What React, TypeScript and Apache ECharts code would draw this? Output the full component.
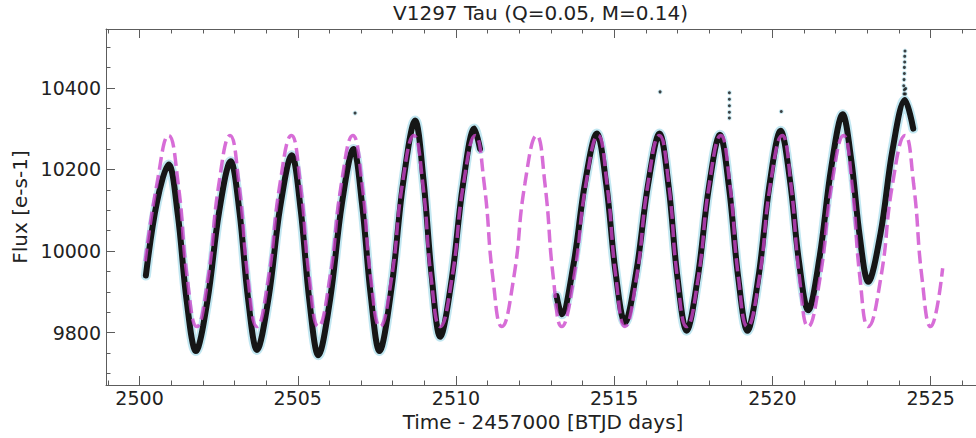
import { useEffect, useRef } from "react";
import * as echarts from "echarts";

// ---- texts ----
const titleText = "V1297 Tau (Q=0.05, M=0.14)";
const xName = "Time - 2457000 [BTJD days]";
const yName = "Flux [e-s-1]";

// ---- ticks ----
const xTicks = [2500, 2505, 2510, 2515, 2520, 2525];
const yTicks = [9800, 10000, 10200, 10400];

// ---- observed light curve (band centre), first orbit ----
const obsTimeA = [2500.20, 2500.55, 2500.92, 2501.21, 2501.49, 2501.78, 2502.15, 2502.51, 2502.88, 2503.16, 2503.43, 2503.71, 2504.08, 2504.44, 2504.81, 2505.09, 2505.37, 2505.65, 2506.02, 2506.39, 2506.76, 2507.03, 2507.31, 2507.58, 2507.96, 2508.33, 2508.71, 2508.97, 2509.24, 2509.50, 2509.86, 2510.22, 2510.58, 2510.76];
const obsFluxA = [9940, 10120, 10212, 10089, 9878, 9755, 9881, 10094, 10220, 10095, 9883, 9758, 9887, 10106, 10235, 10103, 9877, 9745, 9881, 10114, 10250, 10116, 9889, 9755, 9908, 10167, 10320, 10177, 9933, 9790, 9928, 10162, 10300, 10250];

// ---- observed light curve, second orbit ----
const obsTimeB = [2513.18, 2513.34, 2513.71, 2514.08, 2514.45, 2514.75, 2515.04, 2515.34, 2515.70, 2516.07, 2516.43, 2516.72, 2517.00, 2517.29, 2517.64, 2517.99, 2518.34, 2518.63, 2518.92, 2519.21, 2519.56, 2519.91, 2520.26, 2520.55, 2520.84, 2521.13, 2521.49, 2521.86, 2522.22, 2522.49, 2522.76, 2523.03, 2523.42, 2523.80, 2524.19, 2524.45];
const obsFluxB = [9890, 9845, 9965, 10168, 10288, 10163, 9950, 9825, 9950, 10163, 10288, 10158, 9935, 9805, 9935, 10155, 10285, 10155, 9935, 9805, 9937, 10163, 10295, 10176, 9974, 9855, 9985, 10205, 10335, 10224, 10036, 9925, 10045, 10250, 10370, 10300];

// ---- isolated outlying points / flare spike ----
const outlierTime = [2506.81, 2516.45, 2518.64, 2518.64, 2518.64, 2518.64, 2518.64, 2520.28, 2524.16, 2524.20, 2524.17, 2524.21, 2524.15, 2524.16, 2524.17, 2524.17, 2524.18, 2524.18, 2524.19];
const outlierFlux = [10338, 10390, 10388, 10372, 10356, 10340, 10326, 10342, 10385, 10385, 10395, 10398, 10405, 10420, 10435, 10450, 10463, 10477, 10490];

// ---- spot model (dashed) ----
const modelTime = [
  2500.18, 2500.55, 2500.92,
  2501.22, 2501.51, 2501.81, 2502.16, 2502.51, 2502.86,
  2503.14, 2503.43, 2503.71, 2504.07, 2504.44, 2504.80,
  2505.08, 2505.37, 2505.65, 2506.01, 2506.38, 2506.74,
  2507.03, 2507.31, 2507.60, 2507.96, 2508.31, 2508.67,
  2508.95, 2509.22, 2509.50, 2509.87, 2510.24, 2510.61,
  2510.89, 2511.17, 2511.45, 2511.82, 2512.18, 2512.55,
  2512.81, 2513.08, 2513.34, 2513.72, 2514.11, 2514.49,
  2514.77, 2515.06, 2515.34, 2515.70, 2516.07, 2516.43,
  2516.72, 2517.00, 2517.29, 2517.65, 2518.01, 2518.37,
  2518.65, 2518.93, 2519.21, 2519.58, 2519.94, 2520.31,
  2520.58, 2520.86, 2521.13, 2521.50, 2521.88, 2522.25,
  2522.51, 2522.77, 2523.03, 2523.42, 2523.80, 2524.19,
  2524.46, 2524.73, 2525.00, 2525.38,
];
const modelFlux = [
  9975, 10165, 10283,
  10166, 9932, 9815, 9932, 10166, 10283,
  10166, 9932, 9815, 9932, 10166, 10283,
  10166, 9932, 9815, 9932, 10166, 10283,
  10166, 9932, 9815, 9932, 10166, 10283,
  10166, 9932, 9815, 9932, 10166, 10283,
  10166, 9932, 9815, 9932, 10166, 10283,
  10166, 9932, 9815, 9932, 10166, 10283,
  10166, 9932, 9815, 9932, 10166, 10283,
  10166, 9932, 9815, 9932, 10166, 10283,
  10166, 9932, 9815, 9932, 10166, 10283,
  10166, 9932, 9815, 9932, 10166, 10283,
  10166, 9932, 9815, 9932, 10166, 10283,
  10166, 9932, 9815, 9958,
];

const zip = (xs: number[], ys: number[]) => xs.map((x, i) => [x, ys[i]]);

const FONT = "DejaVu Sans";
const AXIS_COLOR = "#5c5c5c";
const TEXT_COLOR = "#222";
const ERR_COLOR = "#c2e7f1";
const PT_COLOR = "#161616";
const MODEL_COLOR = "rgba(204,68,204,0.78)";

export default function App() {
  const ref = useRef<HTMLDivElement>(null);
  useEffect(() => {
    if (!ref.current) return;
    const chart = echarts.init(ref.current, null, { renderer: "svg" });
    const obsA = zip(obsTimeA, obsFluxA);
    const obsB = zip(obsTimeB, obsFluxB);
    const outliers = zip(outlierTime, outlierFlux);
    const model = zip(modelTime, modelFlux);

    const xMin = 2498.94;
    const xMax = 2526.56;
    const yMin = 9672;
    const yMax = 10544;

    const tickLine = { color: AXIS_COLOR, width: 1 };
    const plain = (v: number) => String(v);
    const lineCommon: any = {
      type: "line",
      showSymbol: false,
      symbol: "none",
      smooth: 0.35,
      silent: true,
      animation: false,
    };

    chart.setOption({
      animation: false,
      title: {
        text: titleText,
        left: 393,
        top: 3,
        padding: 0,
        textStyle: { fontSize: 20, fontWeight: "normal", color: TEXT_COLOR, fontFamily: FONT },
      },
      grid: {
        left: 106,
        right: -4,
        top: 29,
        bottom: 53,
        containLabel: false,
        outerBoundsMode: "none",
      },
      xAxis: [
        {
          type: "value",
          position: "bottom",
          min: xMin,
          max: xMax,
          splitNumber: 5,
          splitLine: { show: false },
          axisLine: { show: true, onZero: false, lineStyle: tickLine },
          axisTick: { show: true, inside: false, length: -9, customValues: xTicks, lineStyle: tickLine },
          minorTick: { show: true, splitNumber: 5, length: -4.5, lineStyle: tickLine },
          axisLabel: {
            show: true,
            customValues: xTicks,
            formatter: plain,
            margin: 3,
            fontSize: 19,
            color: TEXT_COLOR,
            fontFamily: FONT,
          },
          name: xName,
          nameLocation: "middle",
          nameGap: 24,
          nameTextStyle: { fontSize: 20, color: TEXT_COLOR, fontFamily: FONT },
        },
        {
          type: "value",
          position: "top",
          min: xMin,
          max: xMax,
          splitNumber: 5,
          splitLine: { show: false },
          axisLine: { show: true, onZero: false, lineStyle: tickLine },
          axisTick: { show: true, inside: false, length: -9, customValues: xTicks, lineStyle: tickLine },
          minorTick: { show: true, splitNumber: 5, length: -4.5, lineStyle: tickLine },
          axisLabel: { show: false },
        },
      ],
      yAxis: [
        {
          type: "value",
          position: "left",
          min: yMin,
          max: yMax,
          splitNumber: 5,
          splitLine: { show: false },
          axisLine: { show: true, onZero: false, lineStyle: tickLine },
          axisTick: { show: true, inside: false, length: -9, customValues: yTicks, lineStyle: tickLine },
          minorTick: { show: true, splitNumber: 4, length: -4.5, lineStyle: tickLine },
          axisLabel: {
            show: true,
            customValues: yTicks,
            formatter: plain,
            margin: 5,
            fontSize: 19,
            color: TEXT_COLOR,
            fontFamily: FONT,
          },
          name: yName,
          nameLocation: "middle",
          nameRotate: 90,
          nameGap: 65,
          nameTextStyle: { fontSize: 20, color: TEXT_COLOR, fontFamily: FONT },
        },
      ],
      series: [
        { ...lineCommon, data: obsA, z: 1, lineStyle: { color: ERR_COLOR, width: 10, cap: "round", join: "round" } },
        { ...lineCommon, data: obsB, z: 1, lineStyle: { color: ERR_COLOR, width: 10, cap: "round", join: "round" } },
        { ...lineCommon, data: obsA, z: 2, lineStyle: { color: PT_COLOR, width: 6, cap: "round", join: "round" } },
        { ...lineCommon, data: obsB, z: 2, lineStyle: { color: PT_COLOR, width: 6, cap: "round", join: "round" } },
        { type: "scatter", data: outliers, symbolSize: 5, itemStyle: { color: ERR_COLOR }, z: 3, silent: true },
        { type: "scatter", data: outliers, symbolSize: 3, itemStyle: { color: PT_COLOR }, z: 4, silent: true },
        {
          ...lineCommon,
          data: model,
          smooth: 0.5,
          z: 5,
          lineStyle: { color: MODEL_COLOR, width: 3.5, type: [13, 5.5] },
        },
      ],
    });
    return () => chart.dispose();
  }, []);

  return (
    <div
      ref={ref}
      style={{ position: "absolute", left: 0, top: 0, width: 976, height: 438, background: "#fff" }}
    />
  );
}
